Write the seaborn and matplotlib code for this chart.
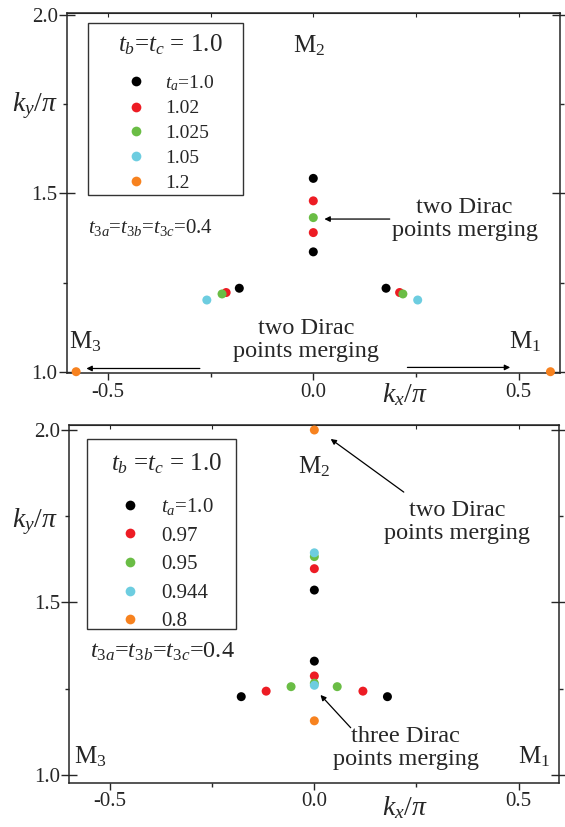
import matplotlib
matplotlib.use("Agg")
import matplotlib.pyplot as plt
import seaborn as sns
import pandas as pd
from matplotlib.lines import Line2D
from matplotlib.patches import Rectangle
from matplotlib.ticker import MultipleLocator, FuncFormatter
import matplotlib.transforms as mtransforms

# ---- data ----
colors = ["#000000", "#ed1c24", "#6abd45", "#6dcde0", "#f7821f"]

top_labels = ["$t_a$=1.0", "1.02", "1.025", "1.05", "1.2"]
top_kx = [
    [0.0, 0.0, -0.180, 0.177],
    [0.0, 0.0, -0.212, 0.210],
    [0.0, -0.222, 0.218],
    [-0.259, 0.254],
    [-0.577, 0.577],
]
top_ky = [
    [1.542, 1.336, 1.234, 1.234],
    [1.479, 1.390, 1.222, 1.222],
    [1.432, 1.218, 1.218],
    [1.201, 1.201],
    [1.0, 1.0],
]

bot_labels = ["$t_a$=1.0", "0.97", "0.95", "0.944", "0.8"]
bot_kx = [
    [0.0, 0.0, -0.179, 0.179],
    [0.0, 0.0, -0.118, 0.119],
    [0.0, 0.0, -0.057, 0.056],
    [0.0, 0.0],
    [0.0, 0.0],
]
bot_ky = [
    [1.536, 1.330, 1.227, 1.227],
    [1.598, 1.287, 1.243, 1.243],
    [1.633, 1.266, 1.256, 1.256],
    [1.644, 1.260],
    [2.0, 1.157],
]

sns.set_style("ticks")
plt.rcParams["font.family"] = ["Liberation Serif", "DejaVu Serif"]
plt.rcParams["mathtext.fontset"] = "custom"
plt.rcParams["mathtext.rm"] = "Liberation Serif"
plt.rcParams["mathtext.it"] = "Liberation Serif:italic"
plt.rcParams["mathtext.bf"] = "Liberation Serif:bold"


def to_frame(labels, kx, ky):
    rows = []
    for lab, xs, ys in zip(labels, kx, ky):
        for x, y in zip(xs, ys):
            rows.append({"kx": x, "ky": y, "series": lab})
    return pd.DataFrame(rows)


def style_axes(ax, ylim):
    ax.set_xlim(-0.6, 0.6)
    ax.set_ylim(*ylim)
    ax.xaxis.set_major_locator(MultipleLocator(0.5))
    ax.xaxis.set_minor_locator(MultipleLocator(0.25))
    ax.yaxis.set_major_locator(MultipleLocator(0.5))
    ax.yaxis.set_minor_locator(MultipleLocator(0.25))
    ax.xaxis.set_major_formatter(FuncFormatter(lambda v, p: f"{v:.1f}"))
    ax.yaxis.set_major_formatter(FuncFormatter(lambda v, p: f"{v:.1f}"))
    ax.tick_params(axis="x", which="major", direction="out", length=5, width=1,
                   labelsize=15, pad=2)
    ax.tick_params(axis="x", which="minor", direction="out", length=3, width=1)
    ax.tick_params(axis="y", which="major", direction="inout", length=11, width=1,
                   labelsize=15, right=True, pad=1)
    ax.tick_params(axis="y", which="minor", direction="out", length=3, width=1,
                   right=True)
    sec = ax.secondary_xaxis("top")
    sec.set_xticks([-0.5, -0.25, 0.0, 0.25, 0.5])
    sec.tick_params(direction="in", length=3, width=0.8, labeltop=False)
    for s in ax.spines.values():
        s.set_linewidth(1.1)
    ax.set_xlabel("")
    ax.set_ylabel("")
    return mtransforms.blended_transform_factory(ax.transData, ax.transAxes)


def draw_legend(ax, labels, title, box, anchor_y, size, spacing, title_gap):
    # box = (x0, y0, w, h) in axes coords
    ax.add_patch(Rectangle(box[:2], box[2], box[3], transform=ax.transAxes,
                           facecolor="white", edgecolor="#333333", lw=1.0,
                           zorder=4))
    handles = [Line2D([], [], marker="o", linestyle="none", color=c,
                      markeredgecolor="none", markersize=7) for c in colors]
    leg = ax.legend(handles, labels, title=title, loc="upper center",
                    bbox_to_anchor=(box[0] + box[2] / 2 + 0.01, anchor_y),
                    frameon=False, fontsize=size, title_fontsize=18,
                    labelspacing=spacing, handlelength=1.0, handletextpad=1.0,
                    borderpad=0, borderaxespad=0)
    leg.set_zorder(5)
    leg._legend_box.sep = title_gap
    leg._legend_box.align = "center"
    return leg


fig = plt.figure(figsize=(5.65, 8.27), dpi=100)
ax1 = fig.add_axes([0.118, 0.5486, 0.873, 0.4353])
ax2 = fig.add_axes([0.1227, 0.0536, 0.8673, 0.4325])
pal_top = dict(zip(top_labels, colors))
pal_bot = dict(zip(bot_labels, colors))
arrow = dict(arrowstyle="-|>", color="black", lw=0.9, mutation_scale=8,
             shrinkA=0, shrinkB=0)

# ---- top panel ----
sns.scatterplot(data=to_frame(top_labels, top_kx, top_ky), x="kx", y="ky",
                hue="series", palette=pal_top, s=42, edgecolor="none",
                legend=False, ax=ax1, clip_on=False, zorder=3)
tr1 = style_axes(ax1, (0.9955, 2.0048))
draw_legend(ax1, top_labels, "$t_b$=$t_c$ = 1.0",
            (0.043, 0.4953, 0.314, 0.4767), 0.947, 14, 0.37, 11.5)
ax1.text(-0.064, 0.743, "$k_y/\\pi$", transform=ax1.transAxes, fontsize=20,
         ha="center", va="center")
ax1.text(0.222, -0.079, "$k_x/\\pi$", transform=tr1, fontsize=20, ha="center",
         va="baseline")
ax1.text(-0.01, 1.915, "M$_2$", fontsize=18, ha="center", va="center")
ax1.text(-0.554, 1.083, "M$_3$", fontsize=18, ha="center", va="center")
ax1.text(0.516, 1.083, "M$_1$", fontsize=18, ha="center", va="center")
ax1.text(-0.549, 1.403, "$t_{3a}$=$t_{3b}$=$t_{3c}$=0.4", fontsize=15,
         ha="left", va="center")
ax1.text(0.368, 1.428, "two Dirac\npoints merging", fontsize=17.5, ha="center",
         va="center", linespacing=1.1)
ax1.annotate("", xy=(0.027, 1.428), xytext=(0.186, 1.428), arrowprops=arrow)
ax1.text(-0.017, 1.089, "two Dirac\npoints merging", fontsize=17.5, ha="center",
         va="center", linespacing=1.1)
ax1.annotate("", xy=(-0.552, 1.009), xytext=(-0.276, 1.009), arrowprops=arrow)
ax1.annotate("", xy=(0.479, 1.012), xytext=(0.229, 1.012), arrowprops=arrow)

# ---- bottom panel ----
sns.scatterplot(data=to_frame(bot_labels, bot_kx, bot_ky), x="kx", y="ky",
                hue="series", palette=pal_bot, s=42, edgecolor="none",
                legend=False, ax=ax2, clip_on=False, zorder=3)
tr2 = style_axes(ax2, (0.9777, 2.0145))
draw_legend(ax2, bot_labels, "$t_b$ =$t_c$ = 1.0",
            (0.037, 0.4297, 0.303, 0.5303), 0.926, 15, 0.43, 14.5)
ax2.text(-0.07, 0.73, "$k_y/\\pi$", transform=ax2.transAxes, fontsize=20,
         ha="center", va="center")
ax2.text(0.222, -0.0903, "$k_x/\\pi$", transform=tr2, fontsize=20, ha="center",
         va="baseline")
ax2.text(0.0, 1.895, "M$_2$", fontsize=18, ha="center", va="center")
ax2.text(-0.549, 1.052, "M$_3$", fontsize=18, ha="center", va="center")
ax2.text(0.538, 1.052, "M$_1$", fontsize=18, ha="center", va="center")
ax2.text(-0.549, 1.357, "$t_{3a}$=$t_{3b}$=$t_{3c}$=0.4", fontsize=17.5,
         ha="left", va="center")
ax2.text(0.35, 1.733, "two Dirac\npoints merging", fontsize=17.5, ha="center",
         va="center", linespacing=1.1)
ax2.annotate("", xy=(0.040, 1.974), xytext=(0.219, 1.820), arrowprops=arrow)
ax2.text(0.224, 1.078, "three Dirac\npoints merging", fontsize=17.5, ha="center",
         va="center", linespacing=1.1)
ax2.annotate("", xy=(0.015, 1.232), xytext=(0.089, 1.137), arrowprops=arrow)

fig.savefig("out.png", dpi=100)
